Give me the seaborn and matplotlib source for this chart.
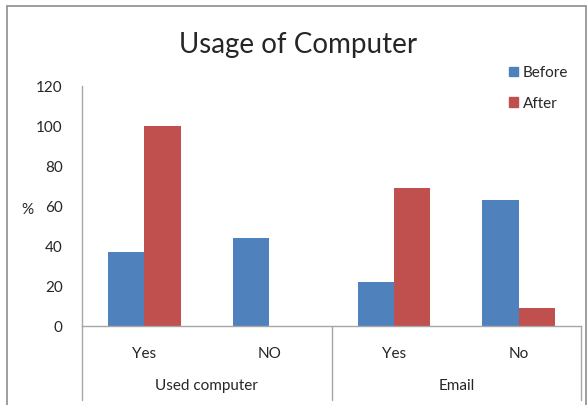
import numpy as np
import pandas as pd
import matplotlib
matplotlib.use("Agg")
import matplotlib.pyplot as plt
import seaborn as sns
from matplotlib.patches import Rectangle

# data
groups = ["Used computer", "Used computer", "Email", "Email"]
answers = ["Yes", "NO", "Yes", "No"]
before = [37, 44, 22, 63]
after = [100, 0, 69, 9]
series = ["Before", "After"]
colors = ["#4F81BD", "#C0504D"]

keys = [g + "|" + a for g, a in zip(groups, answers)]
df = pd.DataFrame({
    "item": keys * 2,
    "pct": before + after,
    "when": ["Before"] * 4 + ["After"] * 4,
})

sns.set_style("white")
plt.rcParams["font.family"] = ["Lato", "DejaVu Sans"]

W, H = 588, 405
fig = plt.figure(figsize=(W / 100, H / 100), dpi=100)
ax = fig.add_axes([82 / W, 1 - 326 / H, (581 - 82) / W, (326 - 86) / H])

sns.barplot(data=df, x="item", y="pct", hue="when", hue_order=series,
            palette=colors, width=0.58, saturation=1, linewidth=0,
            ax=ax, legend=False)

ax.set_ylim(0, 120)
ax.set_yticks(np.arange(0, 121, 20))
ax.set_xlim(-0.5, 3.5)
ax.set_xticks(range(4))
ax.set_xticklabels(answers, fontsize=11)
ax.tick_params(axis="x", length=0, pad=15)
ax.tick_params(axis="y", length=0, pad=14, labelsize=11)
ax.set_xlabel("")
ax.set_ylabel("")
fig.text(27 / W, 1 - 210 / H, "%", ha="center", va="center", fontsize=11)

for s in ["top", "right"]:
    ax.spines[s].set_visible(False)
for s in ["left", "bottom"]:
    ax.spines[s].set_color("#a6a6a6")
    ax.spines[s].set_linewidth(1)

# group separators under the axis
trans = ax.get_xaxis_transform()
for xv in [-0.5, 1.5, 3.5]:
    ax.plot([xv, xv], [0, -0.31], color="#a6a6a6", lw=1, transform=trans, clip_on=False)
ax.text(0.5, -0.25, "Used computer", transform=trans, ha="center", va="center", fontsize=11)
ax.text(2.5, -0.25, "Email", transform=trans, ha="center", va="center", fontsize=11)

fig.text(298 / W, 1 - 45 / H, "Usage of Computer", ha="center", va="center", fontsize=20)

handles = [Rectangle((0, 0), 1, 1, color=c) for c in colors]
fig.legend(handles, series, loc="upper left", bbox_to_anchor=(495 / W, 1 - 52 / H),
           frameon=False, fontsize=11, handlelength=0.6, handleheight=0.6,
           handletextpad=0.3, labelspacing=1.1)

# outer chart border
fig.patches.append(Rectangle((7 / W, -0.01), (586 - 7) / W, 1 - 6 / H + 0.01,
                             transform=fig.transFigure, fill=False,
                             edgecolor="#8c8c8c", lw=1.2))

fig.savefig("out.png", dpi=100)
